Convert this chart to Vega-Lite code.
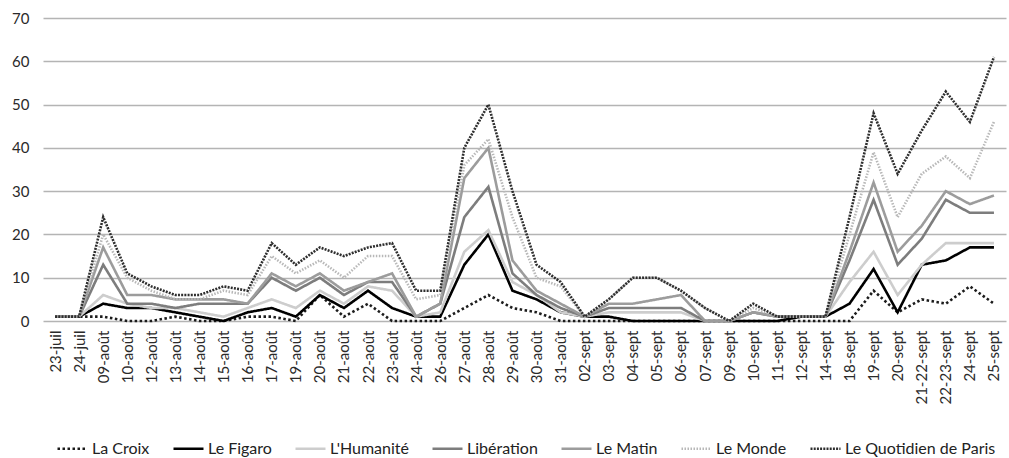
{
  "$schema": "https://vega.github.io/schema/vega-lite/v6.json",
  "width": 963,
  "height": 303,
  "autosize": {"type": "none"},
  "padding": {"left": 43, "top": 18, "right": 3, "bottom": 137},
  "background": "white",
  "config": {
    "view": {"stroke": null},
    "font": "Lato",
    "axis": {"labelFont": "Lato", "labelColor": "#333333"},
    "legend": {"labelFont": "Lato"}
  },
  "data": {"values": [
    {"d":"23-juil","j":"La Croix","v":1},{"d":"23-juil","j":"Le Figaro","v":1},{"d":"23-juil","j":"L'Humanité","v":1},{"d":"23-juil","j":"Libération","v":1},{"d":"23-juil","j":"Le Matin","v":1},{"d":"23-juil","j":"Le Monde","v":1},{"d":"23-juil","j":"Le Quotidien de Paris","v":1},
    {"d":"24-juil","j":"La Croix","v":1},{"d":"24-juil","j":"Le Figaro","v":1},{"d":"24-juil","j":"L'Humanité","v":1},{"d":"24-juil","j":"Libération","v":1},{"d":"24-juil","j":"Le Matin","v":1},{"d":"24-juil","j":"Le Monde","v":1},{"d":"24-juil","j":"Le Quotidien de Paris","v":1},
    {"d":"09-août","j":"La Croix","v":1},{"d":"09-août","j":"Le Figaro","v":4},{"d":"09-août","j":"L'Humanité","v":6},{"d":"09-août","j":"Libération","v":13},{"d":"09-août","j":"Le Matin","v":17},{"d":"09-août","j":"Le Monde","v":20},{"d":"09-août","j":"Le Quotidien de Paris","v":24},
    {"d":"10-août","j":"La Croix","v":0},{"d":"10-août","j":"Le Figaro","v":3},{"d":"10-août","j":"L'Humanité","v":4},{"d":"10-août","j":"Libération","v":4},{"d":"10-août","j":"Le Matin","v":6},{"d":"10-août","j":"Le Monde","v":10},{"d":"10-août","j":"Le Quotidien de Paris","v":11},
    {"d":"12-août","j":"La Croix","v":0},{"d":"12-août","j":"Le Figaro","v":3},{"d":"12-août","j":"L'Humanité","v":3},{"d":"12-août","j":"Libération","v":4},{"d":"12-août","j":"Le Matin","v":6},{"d":"12-août","j":"Le Monde","v":7},{"d":"12-août","j":"Le Quotidien de Paris","v":8},
    {"d":"13-août","j":"La Croix","v":1},{"d":"13-août","j":"Le Figaro","v":2},{"d":"13-août","j":"L'Humanité","v":3},{"d":"13-août","j":"Libération","v":3},{"d":"13-août","j":"Le Matin","v":5},{"d":"13-août","j":"Le Monde","v":5},{"d":"13-août","j":"Le Quotidien de Paris","v":6},
    {"d":"14-août","j":"La Croix","v":0},{"d":"14-août","j":"Le Figaro","v":1},{"d":"14-août","j":"L'Humanité","v":2},{"d":"14-août","j":"Libération","v":4},{"d":"14-août","j":"Le Matin","v":5},{"d":"14-août","j":"Le Monde","v":5},{"d":"14-août","j":"Le Quotidien de Paris","v":6},
    {"d":"15-août","j":"La Croix","v":0},{"d":"15-août","j":"Le Figaro","v":0},{"d":"15-août","j":"L'Humanité","v":1},{"d":"15-août","j":"Libération","v":4},{"d":"15-août","j":"Le Matin","v":5},{"d":"15-août","j":"Le Monde","v":7},{"d":"15-août","j":"Le Quotidien de Paris","v":8},
    {"d":"16-août","j":"La Croix","v":1},{"d":"16-août","j":"Le Figaro","v":2},{"d":"16-août","j":"L'Humanité","v":3},{"d":"16-août","j":"Libération","v":4},{"d":"16-août","j":"Le Matin","v":4},{"d":"16-août","j":"Le Monde","v":6},{"d":"16-août","j":"Le Quotidien de Paris","v":7},
    {"d":"17-août","j":"La Croix","v":1},{"d":"17-août","j":"Le Figaro","v":3},{"d":"17-août","j":"L'Humanité","v":5},{"d":"17-août","j":"Libération","v":10},{"d":"17-août","j":"Le Matin","v":11},{"d":"17-août","j":"Le Monde","v":15},{"d":"17-août","j":"Le Quotidien de Paris","v":18},
    {"d":"19-août","j":"La Croix","v":0},{"d":"19-août","j":"Le Figaro","v":1},{"d":"19-août","j":"L'Humanité","v":3},{"d":"19-août","j":"Libération","v":7},{"d":"19-août","j":"Le Matin","v":8},{"d":"19-août","j":"Le Monde","v":11},{"d":"19-août","j":"Le Quotidien de Paris","v":13},
    {"d":"20-août","j":"La Croix","v":6},{"d":"20-août","j":"Le Figaro","v":6},{"d":"20-août","j":"L'Humanité","v":7},{"d":"20-août","j":"Libération","v":10},{"d":"20-août","j":"Le Matin","v":11},{"d":"20-août","j":"Le Monde","v":14},{"d":"20-août","j":"Le Quotidien de Paris","v":17},
    {"d":"21-août","j":"La Croix","v":1},{"d":"21-août","j":"Le Figaro","v":3},{"d":"21-août","j":"L'Humanité","v":4},{"d":"21-août","j":"Libération","v":6},{"d":"21-août","j":"Le Matin","v":7},{"d":"21-août","j":"Le Monde","v":10},{"d":"21-août","j":"Le Quotidien de Paris","v":15},
    {"d":"22-août","j":"La Croix","v":4},{"d":"22-août","j":"Le Figaro","v":7},{"d":"22-août","j":"L'Humanité","v":8},{"d":"22-août","j":"Libération","v":9},{"d":"22-août","j":"Le Matin","v":9},{"d":"22-août","j":"Le Monde","v":15},{"d":"22-août","j":"Le Quotidien de Paris","v":17},
    {"d":"23-août","j":"La Croix","v":0},{"d":"23-août","j":"Le Figaro","v":3},{"d":"23-août","j":"L'Humanité","v":7},{"d":"23-août","j":"Libération","v":9},{"d":"23-août","j":"Le Matin","v":11},{"d":"23-août","j":"Le Monde","v":15},{"d":"23-août","j":"Le Quotidien de Paris","v":18},
    {"d":"24-août","j":"La Croix","v":0},{"d":"24-août","j":"Le Figaro","v":1},{"d":"24-août","j":"L'Humanité","v":1},{"d":"24-août","j":"Libération","v":1},{"d":"24-août","j":"Le Matin","v":1},{"d":"24-août","j":"Le Monde","v":5},{"d":"24-août","j":"Le Quotidien de Paris","v":7},
    {"d":"26-août","j":"La Croix","v":0},{"d":"26-août","j":"Le Figaro","v":1},{"d":"26-août","j":"L'Humanité","v":2},{"d":"26-août","j":"Libération","v":4},{"d":"26-août","j":"Le Matin","v":4},{"d":"26-août","j":"Le Monde","v":6},{"d":"26-août","j":"Le Quotidien de Paris","v":7},
    {"d":"27-août","j":"La Croix","v":3},{"d":"27-août","j":"Le Figaro","v":13},{"d":"27-août","j":"L'Humanité","v":16},{"d":"27-août","j":"Libération","v":24},{"d":"27-août","j":"Le Matin","v":33},{"d":"27-août","j":"Le Monde","v":36},{"d":"27-août","j":"Le Quotidien de Paris","v":40},
    {"d":"28-août","j":"La Croix","v":6},{"d":"28-août","j":"Le Figaro","v":20},{"d":"28-août","j":"L'Humanité","v":21},{"d":"28-août","j":"Libération","v":31},{"d":"28-août","j":"Le Matin","v":40},{"d":"28-août","j":"Le Monde","v":42},{"d":"28-août","j":"Le Quotidien de Paris","v":50},
    {"d":"29-août","j":"La Croix","v":3},{"d":"29-août","j":"Le Figaro","v":7},{"d":"29-août","j":"L'Humanité","v":9},{"d":"29-août","j":"Libération","v":11},{"d":"29-août","j":"Le Matin","v":14},{"d":"29-août","j":"Le Monde","v":24},{"d":"29-août","j":"Le Quotidien de Paris","v":30},
    {"d":"30-août","j":"La Croix","v":2},{"d":"30-août","j":"Le Figaro","v":5},{"d":"30-août","j":"L'Humanité","v":6},{"d":"30-août","j":"Libération","v":6},{"d":"30-août","j":"Le Matin","v":7},{"d":"30-août","j":"Le Monde","v":10},{"d":"30-août","j":"Le Quotidien de Paris","v":13},
    {"d":"31-août","j":"La Croix","v":0},{"d":"31-août","j":"Le Figaro","v":2},{"d":"31-août","j":"L'Humanité","v":2},{"d":"31-août","j":"Libération","v":3},{"d":"31-août","j":"Le Matin","v":4},{"d":"31-août","j":"Le Monde","v":8},{"d":"31-août","j":"Le Quotidien de Paris","v":9},
    {"d":"02-sept","j":"La Croix","v":0},{"d":"02-sept","j":"Le Figaro","v":1},{"d":"02-sept","j":"L'Humanité","v":1},{"d":"02-sept","j":"Libération","v":1},{"d":"02-sept","j":"Le Matin","v":1},{"d":"02-sept","j":"Le Monde","v":1},{"d":"02-sept","j":"Le Quotidien de Paris","v":1},
    {"d":"03-sept","j":"La Croix","v":0},{"d":"03-sept","j":"Le Figaro","v":1},{"d":"03-sept","j":"L'Humanité","v":2},{"d":"03-sept","j":"Libération","v":3},{"d":"03-sept","j":"Le Matin","v":4},{"d":"03-sept","j":"Le Monde","v":5},{"d":"03-sept","j":"Le Quotidien de Paris","v":5},
    {"d":"04-sept","j":"La Croix","v":0},{"d":"04-sept","j":"Le Figaro","v":0},{"d":"04-sept","j":"L'Humanité","v":2},{"d":"04-sept","j":"Libération","v":3},{"d":"04-sept","j":"Le Matin","v":4},{"d":"04-sept","j":"Le Monde","v":10},{"d":"04-sept","j":"Le Quotidien de Paris","v":10},
    {"d":"05-sept","j":"La Croix","v":0},{"d":"05-sept","j":"Le Figaro","v":0},{"d":"05-sept","j":"L'Humanité","v":2},{"d":"05-sept","j":"Libération","v":3},{"d":"05-sept","j":"Le Matin","v":5},{"d":"05-sept","j":"Le Monde","v":10},{"d":"05-sept","j":"Le Quotidien de Paris","v":10},
    {"d":"06-sept","j":"La Croix","v":0},{"d":"06-sept","j":"Le Figaro","v":0},{"d":"06-sept","j":"L'Humanité","v":2},{"d":"06-sept","j":"Libération","v":3},{"d":"06-sept","j":"Le Matin","v":6},{"d":"06-sept","j":"Le Monde","v":7},{"d":"06-sept","j":"Le Quotidien de Paris","v":7},
    {"d":"07-sept","j":"La Croix","v":0},{"d":"07-sept","j":"Le Figaro","v":0},{"d":"07-sept","j":"L'Humanité","v":0},{"d":"07-sept","j":"Libération","v":0},{"d":"07-sept","j":"Le Matin","v":0},{"d":"07-sept","j":"Le Monde","v":3},{"d":"07-sept","j":"Le Quotidien de Paris","v":3},
    {"d":"09-sept","j":"La Croix","v":0},{"d":"09-sept","j":"Le Figaro","v":0},{"d":"09-sept","j":"L'Humanité","v":0},{"d":"09-sept","j":"Libération","v":0},{"d":"09-sept","j":"Le Matin","v":0},{"d":"09-sept","j":"Le Monde","v":0},{"d":"09-sept","j":"Le Quotidien de Paris","v":0},
    {"d":"10-sept","j":"La Croix","v":0},{"d":"10-sept","j":"Le Figaro","v":0},{"d":"10-sept","j":"L'Humanité","v":2},{"d":"10-sept","j":"Libération","v":2},{"d":"10-sept","j":"Le Matin","v":2},{"d":"10-sept","j":"Le Monde","v":3},{"d":"10-sept","j":"Le Quotidien de Paris","v":4},
    {"d":"11-sept","j":"La Croix","v":0},{"d":"11-sept","j":"Le Figaro","v":0},{"d":"11-sept","j":"L'Humanité","v":1},{"d":"11-sept","j":"Libération","v":1},{"d":"11-sept","j":"Le Matin","v":1},{"d":"11-sept","j":"Le Monde","v":1},{"d":"11-sept","j":"Le Quotidien de Paris","v":1},
    {"d":"12-sept","j":"La Croix","v":0},{"d":"12-sept","j":"Le Figaro","v":1},{"d":"12-sept","j":"L'Humanité","v":1},{"d":"12-sept","j":"Libération","v":1},{"d":"12-sept","j":"Le Matin","v":1},{"d":"12-sept","j":"Le Monde","v":1},{"d":"12-sept","j":"Le Quotidien de Paris","v":1},
    {"d":"14-sept","j":"La Croix","v":0},{"d":"14-sept","j":"Le Figaro","v":1},{"d":"14-sept","j":"L'Humanité","v":1},{"d":"14-sept","j":"Libération","v":1},{"d":"14-sept","j":"Le Matin","v":1},{"d":"14-sept","j":"Le Monde","v":1},{"d":"14-sept","j":"Le Quotidien de Paris","v":1},
    {"d":"18-sept","j":"La Croix","v":0},{"d":"18-sept","j":"Le Figaro","v":4},{"d":"18-sept","j":"L'Humanité","v":9},{"d":"18-sept","j":"Libération","v":14},{"d":"18-sept","j":"Le Matin","v":16},{"d":"18-sept","j":"Le Monde","v":20},{"d":"18-sept","j":"Le Quotidien de Paris","v":24},
    {"d":"19-sept","j":"La Croix","v":7},{"d":"19-sept","j":"Le Figaro","v":12},{"d":"19-sept","j":"L'Humanité","v":16},{"d":"19-sept","j":"Libération","v":28},{"d":"19-sept","j":"Le Matin","v":32},{"d":"19-sept","j":"Le Monde","v":39},{"d":"19-sept","j":"Le Quotidien de Paris","v":48},
    {"d":"20-sept","j":"La Croix","v":2},{"d":"20-sept","j":"Le Figaro","v":2},{"d":"20-sept","j":"L'Humanité","v":6},{"d":"20-sept","j":"Libération","v":13},{"d":"20-sept","j":"Le Matin","v":16},{"d":"20-sept","j":"Le Monde","v":24},{"d":"20-sept","j":"Le Quotidien de Paris","v":34},
    {"d":"21-22-sept","j":"La Croix","v":5},{"d":"21-22-sept","j":"Le Figaro","v":13},{"d":"21-22-sept","j":"L'Humanité","v":13},{"d":"21-22-sept","j":"Libération","v":19},{"d":"21-22-sept","j":"Le Matin","v":22},{"d":"21-22-sept","j":"Le Monde","v":34},{"d":"21-22-sept","j":"Le Quotidien de Paris","v":44},
    {"d":"22-23-sept","j":"La Croix","v":4},{"d":"22-23-sept","j":"Le Figaro","v":14},{"d":"22-23-sept","j":"L'Humanité","v":18},{"d":"22-23-sept","j":"Libération","v":28},{"d":"22-23-sept","j":"Le Matin","v":30},{"d":"22-23-sept","j":"Le Monde","v":38},{"d":"22-23-sept","j":"Le Quotidien de Paris","v":53},
    {"d":"24-sept","j":"La Croix","v":8},{"d":"24-sept","j":"Le Figaro","v":17},{"d":"24-sept","j":"L'Humanité","v":18},{"d":"24-sept","j":"Libération","v":25},{"d":"24-sept","j":"Le Matin","v":27},{"d":"24-sept","j":"Le Monde","v":33},{"d":"24-sept","j":"Le Quotidien de Paris","v":46},
    {"d":"25-sept","j":"La Croix","v":4},{"d":"25-sept","j":"Le Figaro","v":17},{"d":"25-sept","j":"L'Humanité","v":18},{"d":"25-sept","j":"Libération","v":25},{"d":"25-sept","j":"Le Matin","v":29},{"d":"25-sept","j":"Le Monde","v":46},{"d":"25-sept","j":"Le Quotidien de Paris","v":61}
  ]},
  "mark": {"type": "line", "strokeJoin": "miter", "strokeCap": "butt"},
  "encoding": {
    "x": {
      "field": "d", "type": "ordinal", "sort": null,
      "scale": {"type": "point", "padding": 0.5},
      "axis": {"title": null, "labelAngle": 270, "labelFontSize": 15, "labelPadding": 9, "ticks": false, "domain": false, "grid": false, "labelColor": "#2a2a2a"}
    },
    "y": {
      "field": "v", "type": "quantitative",
      "scale": {"domain": [0, 70], "nice": false, "zero": true},
      "axis": {"title": null, "values": [0,10,20,30,40,50,60,70], "labelFontSize": 15, "labelPadding": 14, "ticks": false, "domain": false, "gridColor": "#b4b4b4", "gridWidth": 1.6, "labelColor": "#2a2a2a"}
    },
    "color": {
      "field": "j", "type": "nominal",
      "scale": {
        "domain": ["La Croix","Le Figaro","L'Humanité","Libération","Le Matin","Le Monde","Le Quotidien de Paris"],
        "range": ["#1c1c1c","#000000","#cdcdcd","#7d7d7d","#9c9c9c","#b8b8b8","#2e2e2e"]
      },
      "legend": {"title": null, "orient": "none", "legendX": 13, "legendY": 414, "direction": "horizontal", "symbolType": "stroke", "symbolSize": 900, "labelFontSize": 16, "labelColor": "#222222", "columnPadding": 18, "labelOffset": 3, "symbolOffset": 0}
    },
    "strokeDash": {
      "field": "j", "type": "nominal",
      "scale": {
        "domain": ["La Croix","Le Figaro","L'Humanité","Libération","Le Matin","Le Monde","Le Quotidien de Paris"],
        "range": [[2.5,2.5],[1,0],[1,0],[1,0],[1,0],[1.5,1.5],[2,1.2]]
      },
      "legend": {"title": null, "orient": "none", "legendX": 13, "legendY": 414, "direction": "horizontal", "symbolType": "stroke", "symbolSize": 900, "labelFontSize": 16, "labelColor": "#222222", "columnPadding": 18, "labelOffset": 3, "symbolOffset": 0}
    },
    "strokeWidth": {
      "field": "j", "type": "nominal",
      "scale": {
        "domain": ["La Croix","Le Figaro","L'Humanité","Libération","Le Matin","Le Monde","Le Quotidien de Paris"],
        "range": [2.6, 2.6, 3, 3, 3, 2, 3]
      },
      "legend": {"title": null, "orient": "none", "legendX": 13, "legendY": 414, "direction": "horizontal", "symbolType": "stroke", "symbolSize": 900, "labelFontSize": 16, "labelColor": "#222222", "columnPadding": 18, "labelOffset": 3, "symbolOffset": 0}
    }
  }
}
